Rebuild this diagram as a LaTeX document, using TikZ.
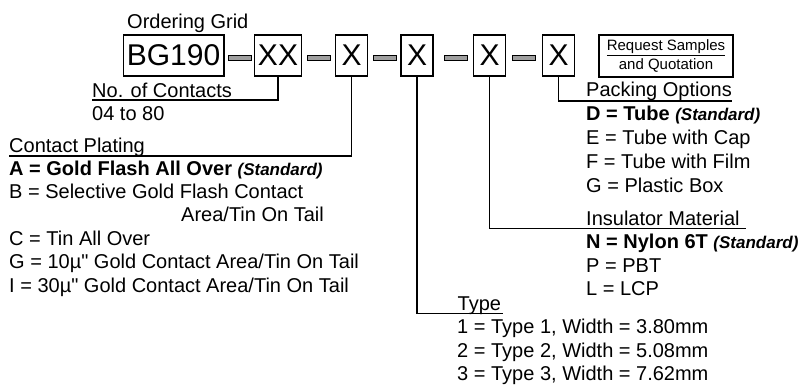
\documentclass[tikz,border=0pt]{standalone}
\usepackage{fontspec}
\setmainfont{Liberation Sans}[Ligatures=TeXOff]
\usepackage{tikz}
\newcommand{\stdtag}{{\fontsize{17}{20}\selectfont\bfseries\itshape(Standard)}}

\begin{document}
\begin{tikzpicture}[x=1pt, y=-1pt,
  code/.style={draw, line width=1.6pt, minimum height=41pt, minimum width=32pt,
    inner xsep=3.5pt, inner ysep=0pt, font=\fontsize{30}{36}\selectfont},
  sep/.style={draw, fill=gray!75, line width=0.8pt, minimum width=23pt,
    minimum height=5pt, inner sep=0pt},
  conn/.style={line width=1.5pt},
  txt/.style={anchor=base west, inner sep=0pt, font=\fontsize{20}{24}\selectfont}]
  \useasboundingbox (0,0) rectangle (800,384);
  % Title
  \node[txt] (title) at (127, 28) {Ordering Grid};
  % Code boxes
  \node[code] (bg) at (173.5, 55.5) {BG190};
  \node[code] (xx) at (278, 55.5) {XX};
  \node[code] (xa) at (351.5, 55.5) {X};
  \node[code] (xb) at (417, 55.5) {X};
  \node[code] (xc) at (489.5, 55.5) {X};
  \node[code] (xd) at (558.5, 55.5) {X};
  % Dashes
  \node[sep] (d1) at (239.5, 57.5) {};
  \node[sep] (d2) at (319, 57.5) {};
  \node[sep] (d3) at (385, 57.5) {};
  \node[sep] (d4) at (456, 57.5) {};
  \node[sep] (d5) at (523.5, 57.5) {};
  % Request box
  \node[draw, line width=1.5pt, minimum width=134pt, minimum height=42pt,
    align=center, inner sep=0pt, font=\fontsize{15}{19}\selectfont]
    (req) at (666, 56) {\underline{Request Samples}\\and Quotation};
  % No. of contacts
  \node[txt] (contacts) at (92, 97) {No. of Contacts};
  \node[txt] (range) at (92, 120.7) {04 to 80};
  \draw[conn] (xx.south) |- ([yshift=-3pt]contacts.base west);
  % Contact plating
  \node[txt] (plating) at (9, 152) {Contact Plating};
  \node[txt] (platA) at (9, 175) {\textbf{A = Gold Flash All Over} \stdtag};
  \node[txt] (platB) at (9, 198.3) {B = Selective Gold Flash Contact};
  \node[txt] (platB2) at (181, 221.7) {Area/Tin On Tail};
  \node[txt] (platC) at (9, 245) {C = Tin All Over};
  \node[txt] (platG) at (9, 268.3) {G = 10µ" Gold Contact Area/Tin On Tail};
  \node[txt] (platI) at (9, 292) {I = 30µ" Gold Contact Area/Tin On Tail};
  \draw[conn] (xa.south) |- ([yshift=-4pt]plating.base west);
  % Type
  \node[txt] (type) at (457.5, 310) {Type};
  \foreach \entry [count=\i] in {{1 = Type 1, Width = 3.80mm},
      {2 = Type 2, Width = 5.08mm}, {3 = Type 3, Width = 7.62mm}}
    \node[txt] (type\i) at (457, 310.7+23.2*\i) {\entry};
  \draw[conn] (xb.south) |- ([xshift=2pt,yshift=-3.5pt]type.base east);
  % Insulator material
  \node[txt] (insul) at (586, 225) {Insulator Material};
  \node[txt] (insulN) at (586, 248.5) {\textbf{N = Nylon 6T} \stdtag};
  \node[txt] (insulP) at (586, 272) {P = PBT};
  \node[txt] (insulL) at (586, 295.5) {L = LCP};
  \draw[conn] (xc.south) |- ([xshift=6pt,yshift=-3.5pt]insul.base east);
  % Packing options
  \node[txt] (packing) at (586, 96.7) {Packing Options};
  \node[txt] (packD) at (586, 120.5) {\textbf{D = Tube} \stdtag};
  \foreach \entry [count=\i] in {E = Tube with Cap, F = Tube with Film, G = Plastic Box}
    \node[txt] (pack\i) at (586, 120.5+24*\i) {\entry};
  \draw[conn] (xd.south) |- ([yshift=-4.5pt]packing.base east);
\end{tikzpicture}
\end{document}
